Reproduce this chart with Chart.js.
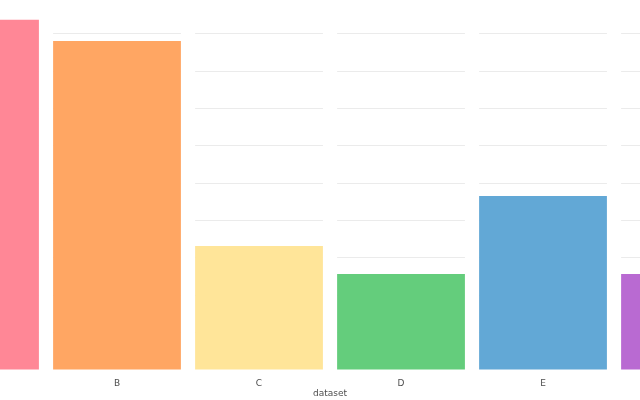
<!DOCTYPE html>
<html>
<head>
<meta charset="utf-8">
<script src="https://cdn.jsdelivr.net/npm/chart.js@4"></script>
<style>
  html, body { margin: 0; padding: 0; background: #fff; }
  #wrap { width: 640px; height: 400px; }
</style>
</head>
<body>
<div id="wrap"><canvas id="myChart"></canvas></div>
<script>
// categories and values
var categories = ['A', 'B', 'C', 'D', 'E', 'F'];
var values = [9.38, 8.81, 3.32, 2.57, 4.66, 2.57];
var colors = ['#ff8796', '#ffa663', '#ffe599', '#64cd7c', '#62a8d6', '#b96ad2'];
var axisTitle = 'dataset';

var points = values.map(function (v, i) {
  return { x: i, y: v };
});

// white strips between the bars, so grid lines stop at bar edges
var gapPlugin = {
  id: 'gaps',
  beforeDatasetsDraw: function (chart) {
    var ctx = chart.ctx;
    var area = chart.chartArea;
    var bars = chart.getDatasetMeta(0).data;
    ctx.save();
    ctx.fillStyle = '#ffffff';
    for (var i = 0; i < bars.length - 1; i++) {
      var right = bars[i].x + bars[i].width / 2;
      var left = bars[i + 1].x - bars[i + 1].width / 2;
      ctx.fillRect(right, area.top, left - right, area.bottom - area.top + 2);
    }
    ctx.restore();
  }
};

// axis title, centred on the full category range
var titlePlugin = {
  id: 'xtitle',
  afterDraw: function (chart) {
    var ctx = chart.ctx;
    var x = chart.scales.x.getPixelForValue((categories.length - 1) / 2);
    ctx.save();
    ctx.font = '9px "DejaVu Sans"';
    ctx.fillStyle = '#4d4d4d';
    ctx.textAlign = 'center';
    ctx.textBaseline = 'middle';
    ctx.fillText(axisTitle, x, 394);
    ctx.restore();
  }
};

const ctx = document.getElementById('myChart');
let chart = new Chart(ctx, {
  type: 'bar',
  data: {
    datasets: [{
      data: points,
      backgroundColor: colors,
      borderWidth: 0,
      barPercentage: 0.9,
      categoryPercentage: 1.0
    }]
  },
  plugins: [gapPlugin, titlePlugin],
  options: {
    responsive: true,
    maintainAspectRatio: false,
    animation: false,
    layout: { padding: 0 },
    plugins: {
      legend: { display: false },
      tooltip: { enabled: false }
    },
    scales: {
      x: {
        type: 'linear',
        min: 0.176,
        max: 4.683,
        offset: false,
        bounds: 'ticks',
        grid: { display: false, offset: false },
        border: { display: false },
        ticks: {
          stepSize: 1,
          includeBounds: false,
          maxRotation: 0,
          color: '#4d4d4d',
          font: { family: 'DejaVu Sans', size: 9 },
          padding: 0,
          callback: function (v) {
            return Number.isInteger(v) ? categories[v] : '';
          }
        },
        afterFit: function (scale) { scale.height = 30; }
      },
      y: {
        min: 0,
        max: 9.91,
        ticks: { display: false, stepSize: 1, includeBounds: false },
        grid: {
          color: function (c) { return c.tick && c.tick.value === 0 ? 'rgba(0,0,0,0)' : '#ebebeb'; },
          lineWidth: 1,
          drawTicks: false
        },
        border: { display: false },
        afterFit: function (scale) { scale.width = 0; }
      }
    }
  }
});
</script>
</body>
</html>
